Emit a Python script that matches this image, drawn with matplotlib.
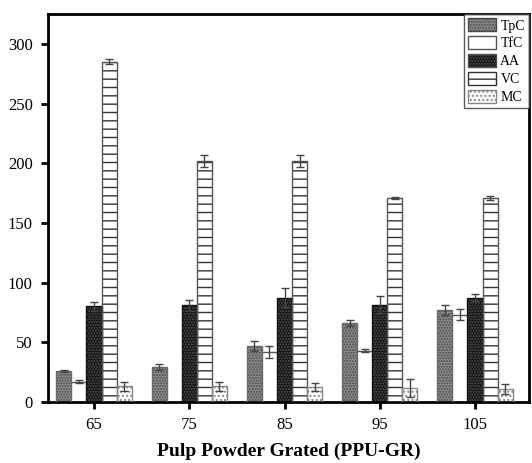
import matplotlib
matplotlib.use("Agg")
import matplotlib.pyplot as plt
from matplotlib.patches import Patch
import numpy as np

categories = [65, 75, 85, 95, 105]
series = ["TpC", "TfC", "AA", "VC", "MC"]
tpc = [26, 29, 47, 66, 77]
tpc_err = [1, 2.5, 4, 2.5, 4]
tfc = [17, 0, 42, 43, 73]
tfc_err = [1, 0, 5, 1.5, 4.5]
aa = [80, 81, 87.5, 81.5, 87.5]
aa_err = [4, 4.5, 8, 7, 3]
vc = [285, 202, 202, 171, 171]
vc_err = [2, 5, 5, 1, 1.5]
mc = [13, 13, 12.5, 12, 11]
mc_err = [4, 4, 3, 7.5, 4]
yticks = [0, 50, 100, 150, 200, 250, 300]

plt.rcParams['font.family'] = ['Liberation Serif', 'DejaVu Serif']
plt.rcParams['hatch.linewidth'] = 1.0

fig = plt.figure(figsize=(5.32, 4.63), dpi=100)
ax = fig.add_axes([0.0902, 0.1318, 0.9944 - 0.0902, 0.9698 - 0.1318])

x = np.array(categories, dtype=float)
w = 1.58
vals = [tpc, tfc, aa, vc, mc]
errs = [tpc_err, tfc_err, aa_err, vc_err, mc_err]
# (facecolor, hatch, hatch colour, edge colour)
styles = [
    ("#8c8c8c", "......", "#4a4a4a", "#6a6a6a"),
    ("white", None, "white", "none"),
    ("#151515", "......", "#505050", "#111111"),
    ("white", "--", "#333333", "#555555"),
    ("white", "....", "#888888", "#888888"),
]
handles = []
for i, (v, e, st, name) in enumerate(zip(vals, errs, styles, series)):
    fc, hatch, hc, ec = st
    pos = x + (i - 2) * w
    v = np.array(v, dtype=float)
    e = np.array(e, dtype=float)
    ax.bar(pos, v, width=w, color=fc, hatch=hatch, edgecolor=hc, linewidth=0, zorder=2)
    ax.bar(pos, v, width=w, fill=False, edgecolor=ec, linewidth=1.0, zorder=3)
    mask = v > 0
    if name == "TfC":
        ax.hlines(v[mask], pos[mask] - w / 2, pos[mask] + w / 2,
                  colors="#555555", linewidth=1.0, zorder=3)
    ax.errorbar(pos[mask], v[mask], yerr=e[mask], fmt="none",
                ecolor="#444444", elinewidth=1.0, capsize=3, capthick=1.0, zorder=4)
    handles.append(Patch(facecolor=fc, hatch=hatch, edgecolor=(hc if hatch else "#555555"),
                         linewidth=1.0, label=name))

ax.set_xlim(60.17, 110.67)
ax.set_ylim(0, 325)
ax.set_xticks(categories)
ax.set_xticklabels([str(c) for c in categories])
ax.set_yticks(yticks)
ax.tick_params(direction="out", length=5, width=2, labelsize=12, pad=6)
for s in ax.spines.values():
    s.set_linewidth(2)
ax.set_xlabel("Pulp Powder Grated (PPU-GR)", fontsize=14, fontweight="bold", labelpad=7)

leg = ax.legend(handles=handles, loc="upper right", fontsize=10, frameon=True,
                fancybox=False, borderaxespad=0, handlelength=2.0, handleheight=1.1,
                labelspacing=0.25, handletextpad=0.3, borderpad=0.3)
leg.get_frame().set_edgecolor("#333333")
leg.get_frame().set_linewidth(1.0)

fig.savefig("out.png", dpi=100)
